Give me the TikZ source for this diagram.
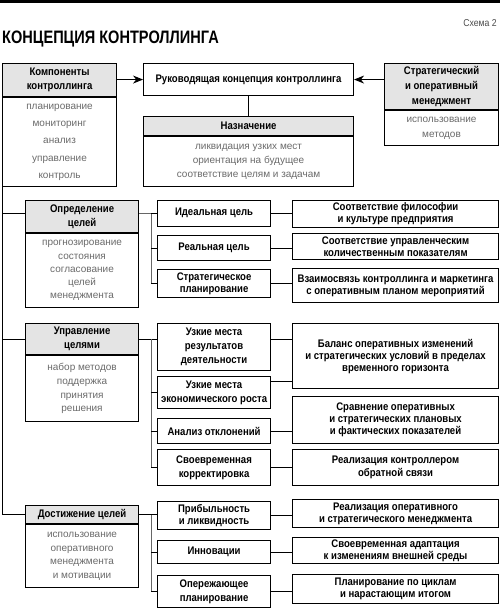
\documentclass[tikz,border=0pt]{standalone}
\usepackage{fontspec}
\usepackage{graphicx}
\setmainfont{Liberation Sans}
\newfontfamily\narrowfont[FakeStretch=0.87]{Liberation Sans}
\usepackage{xcolor}
\usetikzlibrary{arrows.meta,positioning,calc}
\definecolor{headgray}{HTML}{E4E4E4}
\definecolor{notegray}{HTML}{6A6A6A}
\tikzset{
  headcell/.style={draw, line width=1.1pt, fill=headgray, anchor=north west,
    inner sep=1pt, align=center,
    font=\narrowfont\bfseries\fontsize{11}{14}\selectfont},
  bodycell/.style={draw, line width=1.1pt, inner sep=1pt, align=center,
    text=notegray, font=\fontsize{10}{13.5}\selectfont},
  textcell/.style={draw, line width=1.1pt, anchor=north west, inner sep=1pt,
    align=center, font=\narrowfont\bfseries\fontsize{11}{12}\selectfont},
  midcell/.style={textcell, minimum width=113},
  farcell/.style={textcell, minimum width=206},
  link/.style={line width=0.9pt},
  buslink/.style={line width=0.7pt, draw=black!60},
  feed/.style={link, -{Stealth[length=10pt,width=8pt]}},
}

\begin{document}
\begin{tikzpicture}[x=1pt, y=-1pt, line join=miter]
  \useasboundingbox (0,0) rectangle (500,613);
  \fill (0,0) rectangle (500,3.3);

  % title line
  \node[anchor=base west, inner sep=0pt,
    font=\narrowfont\bfseries\fontsize{18}{20}\selectfont] (title) at (2,43)
    {\scalebox{0.93}[1]{КОНЦЕПЦИЯ КОНТРОЛЛИНГА}};
  \node[anchor=base east, inner sep=0pt, text=black!70,
    font=\narrowfont\fontsize{10}{12}\selectfont] (schema) at (497,27) {Схема 2};

  % upper row
  \node[headcell, minimum width=114, minimum height=33] (komph) at (2,63)
    {Компоненты\\контроллинга};
  \node[bodycell, minimum width=114, minimum height=89,
    font=\fontsize{10}{17.3}\selectfont, below=0pt of komph] (kompb)
    {планирование\\мониторинг\\анализ\\управление\\контроль};
  \node[textcell, minimum width=210, minimum height=32] (ruk) at (143,63)
    {Руководящая концепция контроллинга};
  \node[headcell, minimum width=210, minimum height=19] (nazh) at (143,116)
    {Назначение};
  \node[bodycell, minimum width=210, minimum height=50,
    font=\fontsize{10}{14}\selectfont, below=0pt of nazh] (nazb)
    {ликвидация узких мест\\ориентация на будущее\\соответствие целям и задачам};
  \node[headcell, minimum width=114, minimum height=46,
    font=\narrowfont\bfseries\fontsize{11}{15}\selectfont] (strath) at (384,63)
    {Стратегический\\и оперативный\\менеджмент};
  \node[bodycell, minimum width=114, minimum height=35,
    font=\fontsize{10}{15}\selectfont, below=0pt of strath] (stratb)
    {использование\\методов};

  \draw[feed] (komph.east |- ruk.west) -- (ruk.west);
  \draw[feed] (strath.west |- ruk.east) -- (ruk.east);
  \draw[link] (ruk.south) -- (nazh.north);

  % left column
  \node[headcell, minimum width=113, minimum height=32] (oprh) at (25,200)
    {Определение\\целей};
  \node[bodycell, minimum width=113, minimum height=74,
    font=\fontsize{10}{13.3}\selectfont, below=0pt of oprh] (oprb)
    {прогнозирование\\состояния\\согласование\\целей\\менеджмента};
  \node[headcell, minimum width=113, minimum height=31] (uprh) at (25,323)
    {Управление\\целями};
  \node[bodycell, minimum width=113, minimum height=66,
    font=\fontsize{10}{13.6}\selectfont, below=0pt of uprh] (uprb)
    {набор методов\\поддержка\\принятия\\решения};
  \node[headcell, minimum width=113, minimum height=18] (dosth) at (25,505)
    {Достижение целей};
  \node[bodycell, minimum width=113, minimum height=63,
    font=\fontsize{10}{13.7}\selectfont, below=0pt of dosth] (dostb)
    {использование\\оперативного\\менеджмента\\и мотивации};

  % middle column
  \node[midcell, minimum height=25.5] (m1) at (157,200) {Идеальная цель};
  \node[midcell, minimum height=25] (m2) at (157,235) {Реальная цель};
  \node[midcell, minimum height=28] (m3) at (157,269) {Стратегическое\\планирование};
  \node[midcell, minimum height=47, font=\narrowfont\bfseries\fontsize{11}{14}\selectfont]
    (m4) at (157,323) {Узкие места\\результатов\\деятельности};
  \node[midcell, minimum height=32, font=\narrowfont\bfseries\fontsize{11}{14}\selectfont]
    (m5) at (157,376) {Узкие места\\экономического роста};
  \node[midcell, minimum height=25] (m6) at (157,418) {Анализ отклонений};
  \node[midcell, minimum height=36, font=\narrowfont\bfseries\fontsize{11}{14}\selectfont]
    (m7) at (157,449) {Своевременная\\корректировка};
  \node[midcell, minimum height=28] (m8) at (157,501) {Прибыльность\\и ликвидность};
  \node[midcell, minimum height=23] (m9) at (157,540) {Инновации};
  \node[midcell, minimum height=32, font=\narrowfont\bfseries\fontsize{11}{14}\selectfont]
    (m10) at (157,575) {Опережающее\\планирование};

  % right column
  \node[farcell, minimum height=27] (r1) at (292,200)
    {Соответствие философии\\и культуре предприятия};
  \node[farcell, minimum height=26] (r2) at (292,233)
    {Соответствие управленческим\\количественным показателям};
  \node[farcell, minimum height=34] (r3) at (292,268)
    {Взаимосвязь контроллинга и маркетинга\\с оперативным планом мероприятий};
  \node[farcell, minimum height=65] (r4) at (292,323)
    {Баланс оперативных изменений\\и стратегических условий в пределах\\временного горизонта};
  \node[farcell, minimum height=47] (r5) at (292,396)
    {Сравнение оперативных\\и стратегических плановых\\и фактических показателей};
  \node[farcell, minimum height=36, font=\narrowfont\bfseries\fontsize{11}{13}\selectfont]
    (r6) at (292,449) {Реализация контроллером\\обратной связи};
  \node[farcell, minimum height=28] (r8) at (292,499)
    {Реализация оперативного\\и стратегического менеджмента};
  \node[farcell, minimum height=26] (r9) at (292,537)
    {Своевременная адаптация\\к изменениям внешней среды};
  \node[farcell, minimum height=29] (r10) at (292,574)
    {Планирование по циклам\\и нарастающим итогом};

  % trunk down the left edge
  \draw[link] (kompb.south west) -- (kompb.south west |- dosth.west) -- (dosth.west);
  \draw[link] (kompb.south west |- m1.west) -- (oprh.west |- m1.west);
  \draw[link] (kompb.south west |- uprh.west) -- (uprh.west);

  % buses between left and middle column
  \coordinate (bus) at (151,0);
  \draw[buslink] (oprh.east |- m1.west) -- (bus |- m1.west);
  \draw[buslink] (bus |- m1.west) -- (bus |- m3.west);
  \foreach \n in {m1,m2,m3}
    \draw[link] (bus |- \n.west) -- (\n.west);
  \draw[link] (uprh.east) -- (m4.west |- uprh.east);
  \draw[buslink] (bus |- uprh.east) -- (bus |- m7.west);
  \foreach \n in {m5,m6,m7}
    \draw[link] (bus |- \n.west) -- (\n.west);
  \draw[link] (dosth.east) -- (m8.west |- dosth.east);
  \draw[buslink] (bus |- dosth.east) -- (bus |- m10.west);
  \foreach \n in {m9,m10}
    \draw[link] (bus |- \n.west) -- (\n.west);

  % middle to right
  \foreach \n/\r in {m1/r1,m2/r2,m3/r3,m6/r5,m7/r6,m8/r8,m9/r9,m10/r10}
    \draw[link] (\n.east) -- (\r.west |- \n.east);
  \draw[link] (m4.east |- uprh.east) -- (r4.west |- uprh.east);
  \draw[link] ($(m5.north east)+(0,5)$) coordinate (m5out) -- (m5out -| r4.west);
\end{tikzpicture}
\end{document}
